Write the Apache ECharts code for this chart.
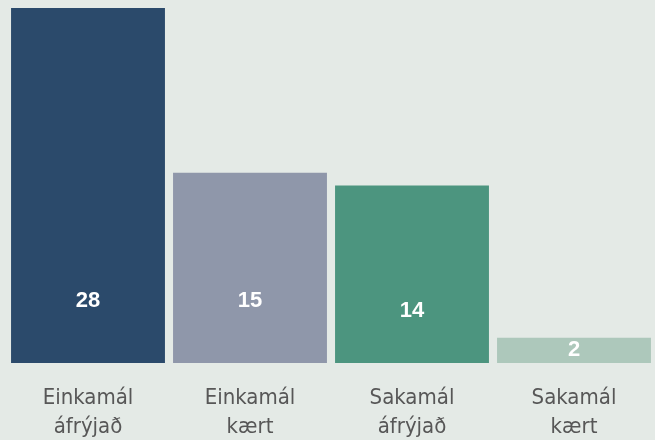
<!DOCTYPE html>
<html>
<head>
<meta charset="utf-8">
<script src="https://cdn.jsdelivr.net/npm/echarts@6/dist/echarts.min.js"></script>
<style>
  html, body { margin: 0; padding: 0; background: #e4eae6; }
  #chart { width: 655px; height: 440px; }
</style>
</head>
<body>
<div id="chart"></div>
<script>
// flokkar og gildi
var categories = ['Einkamál\náfrýjað', 'Einkamál\nkært', 'Sakamál\náfrýjað', 'Sakamál\nkært'];
var values = [28, 15, 14, 2];

// litir og staðsetning merkja (ekki gögn)
var barColors = ['#2b4a6b', '#8f97aa', '#4c957f', '#adc8bb'];
var labelLift = [51, 51, 41, 2];

var chartView = echarts.init(document.getElementById('chart'));

var seriesData = values.map(function (v, i) {
    return {
        value: v,
        itemStyle: { color: barColors[i] },
        label: { distance: labelLift[i] }
    };
});

chartView.setOption({
    backgroundColor: '#e4eae6',
    animation: false,
    grid: { left: 7, right: 0, top: 8, bottom: 77, outerBoundsMode: 'none', containLabel: false },
    xAxis: {
        type: 'category',
        data: categories,
        axisLine: { show: false },
        axisTick: { show: false },
        axisLabel: {
            margin: 21,
            color: '#575757',
            fontFamily: "'Liberation Sans Narrow', 'DejaVu Sans Condensed', sans-serif",
            fontSize: 22,
            lineHeight: 29
        }
    },
    yAxis: {
        type: 'value',
        min: 0,
        max: 28,
        show: false
    },
    series: [{
        type: 'bar',
        data: seriesData,
        barCategoryGap: '5%',
        label: {
            show: true,
            position: 'insideBottom',
            color: '#ffffff',
            fontFamily: "'Liberation Sans', Arial, sans-serif",
            fontWeight: 'bold',
            fontSize: 22,
            lineHeight: 22
        }
    }]
});
</script>
</body>
</html>
